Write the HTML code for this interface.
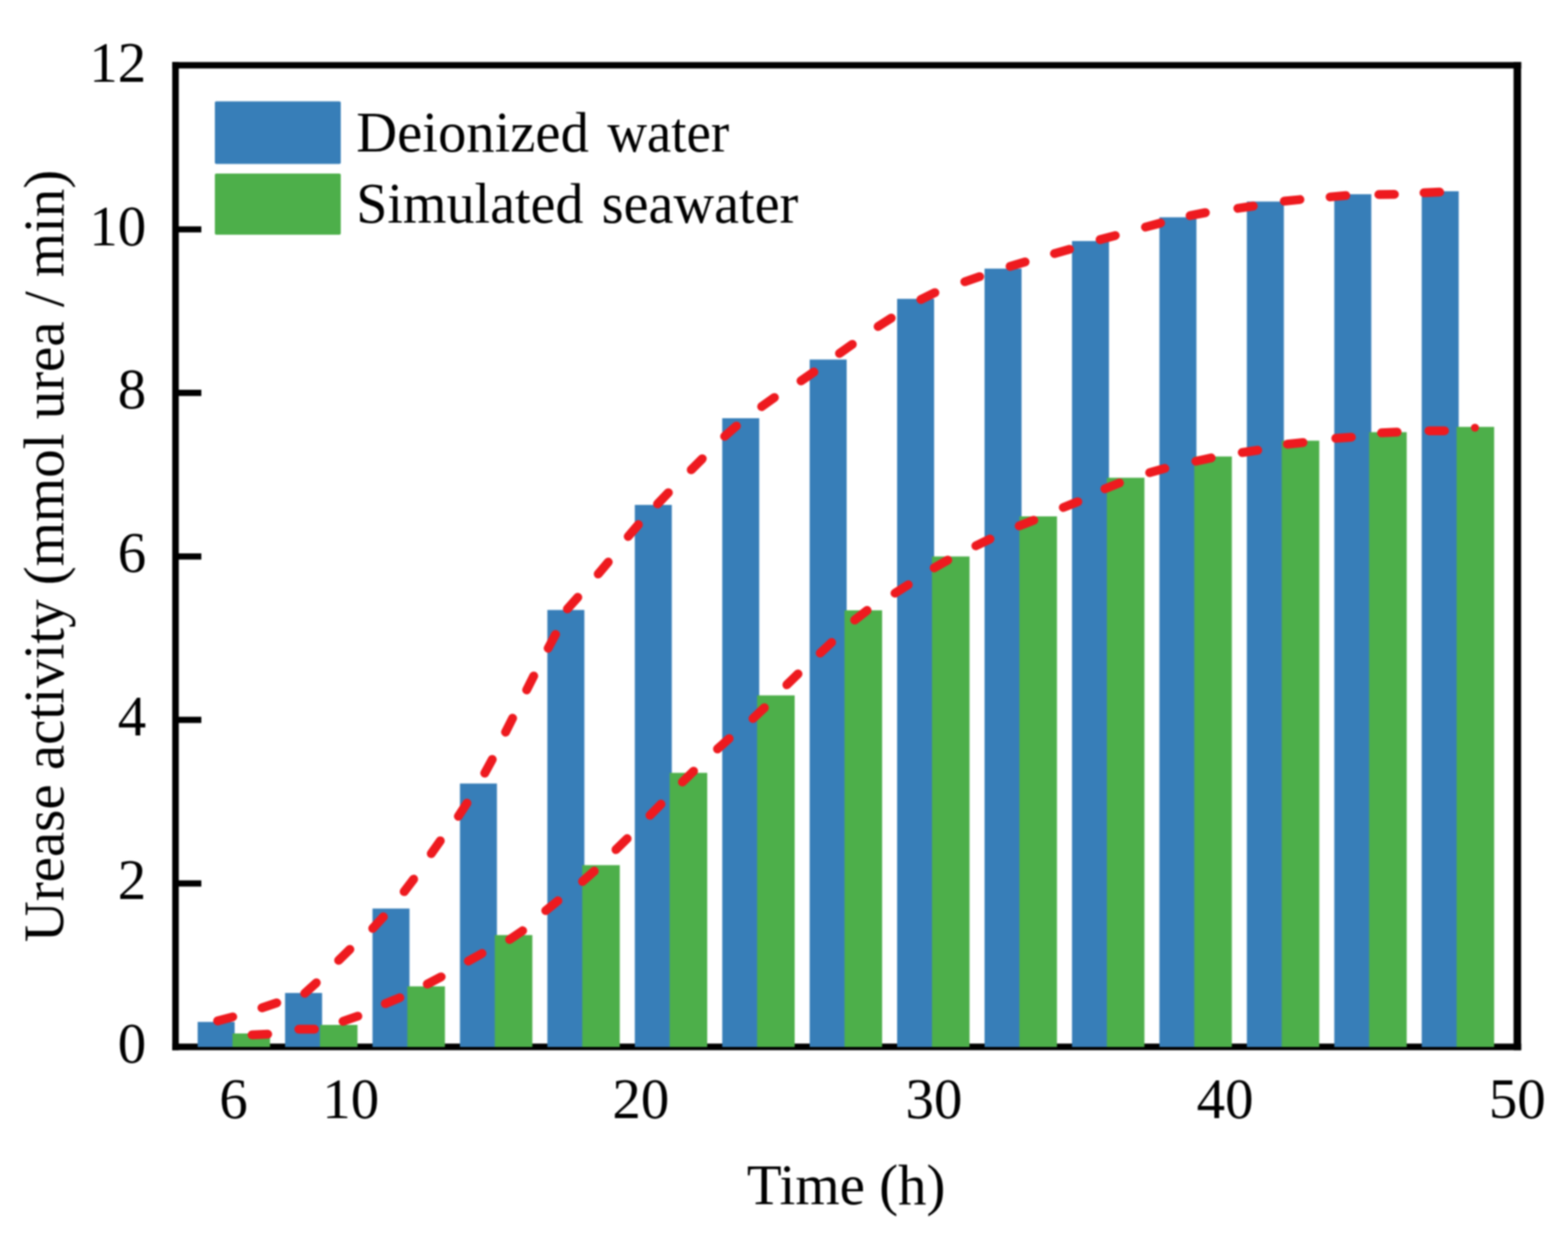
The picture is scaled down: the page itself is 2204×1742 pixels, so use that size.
<!DOCTYPE html>
<html><head><meta charset="utf-8"><title>Urease activity chart</title>
<style>html,body{margin:0;padding:0;background:#fff;}body{width:2204px;height:1742px;overflow:hidden;}svg{display:block;filter:blur(1.1px);}</style>
</head><body>
<svg width="2204" height="1742" viewBox="0 0 2204 1742"><rect x="0" y="0" width="2204" height="1742" fill="#ffffff"/><g><line x1="242" y1="91.7" x2="2138.3" y2="91.7" stroke="#000" stroke-width="9"/><line x1="242" y1="1471.8" x2="2138.3" y2="1471.8" stroke="#000" stroke-width="9.2"/><line x1="246.7" y1="87.2" x2="246.7" y2="1476.4" stroke="#000" stroke-width="9.2"/><line x1="2132.8" y1="87.2" x2="2132.8" y2="1476.4" stroke="#000" stroke-width="10.6"/><line x1="246" y1="1242.1" x2="283" y2="1242.1" stroke="#000" stroke-width="8.7"/><line x1="246" y1="1012.2" x2="283" y2="1012.2" stroke="#000" stroke-width="8.7"/><line x1="246" y1="782.3" x2="283" y2="782.3" stroke="#000" stroke-width="8.7"/><line x1="246" y1="552.4" x2="283" y2="552.4" stroke="#000" stroke-width="8.7"/><line x1="246" y1="322.5" x2="283" y2="322.5" stroke="#000" stroke-width="8.7"/></g><g><rect x="277.8" y="1436.8" width="52.0" height="35.2" fill="#377EB8"/><rect x="326.8" y="1453.0" width="52.8" height="19.0" fill="#4DAF4A"/><rect x="400.7" y="1396.1" width="52.0" height="75.9" fill="#377EB8"/><rect x="449.7" y="1441.0" width="52.8" height="31.0" fill="#4DAF4A"/><rect x="523.6" y="1277.4" width="52.0" height="194.6" fill="#377EB8"/><rect x="572.6" y="1386.8" width="52.8" height="85.2" fill="#4DAF4A"/><rect x="646.5" y="1101.6" width="52.0" height="370.4" fill="#377EB8"/><rect x="695.5" y="1314.7" width="52.8" height="157.3" fill="#4DAF4A"/><rect x="769.4" y="857.6" width="52.0" height="614.4" fill="#377EB8"/><rect x="818.4" y="1216.4" width="52.8" height="255.6" fill="#4DAF4A"/><rect x="892.3" y="709.9" width="52.0" height="762.1" fill="#377EB8"/><rect x="941.3" y="1086.6" width="52.8" height="385.4" fill="#4DAF4A"/><rect x="1015.2" y="588.0" width="52.0" height="884.0" fill="#377EB8"/><rect x="1064.2" y="977.7" width="52.8" height="494.3" fill="#4DAF4A"/><rect x="1138.1" y="505.5" width="52.0" height="966.5" fill="#377EB8"/><rect x="1187.1" y="858.1" width="52.8" height="613.9" fill="#4DAF4A"/><rect x="1261.0" y="420.2" width="52.0" height="1051.8" fill="#377EB8"/><rect x="1310.0" y="782.4" width="52.8" height="689.6" fill="#4DAF4A"/><rect x="1383.9" y="377.7" width="52.0" height="1094.3" fill="#377EB8"/><rect x="1432.9" y="726.0" width="52.8" height="746.0" fill="#4DAF4A"/><rect x="1506.8" y="338.9" width="52.0" height="1133.1" fill="#377EB8"/><rect x="1555.8" y="671.7" width="52.8" height="800.3" fill="#4DAF4A"/><rect x="1629.7" y="305.5" width="52.0" height="1166.5" fill="#377EB8"/><rect x="1678.7" y="641.8" width="52.8" height="830.2" fill="#4DAF4A"/><rect x="1752.6" y="283.4" width="52.0" height="1188.6" fill="#377EB8"/><rect x="1801.6" y="619.6" width="52.8" height="852.4" fill="#4DAF4A"/><rect x="1875.5" y="273.1" width="52.0" height="1198.9" fill="#377EB8"/><rect x="1924.5" y="607.6" width="52.8" height="864.4" fill="#4DAF4A"/><rect x="1998.4" y="268.9" width="52.0" height="1203.1" fill="#377EB8"/><rect x="2047.4" y="600.2" width="52.8" height="871.8" fill="#4DAF4A"/></g><path d="M305.9 1435.4L327.1 1429.7M368.2 1417.0L389.0 1410.0M428.3 1396.6L444.6 1381.8M476.0 1350.2L491.8 1334.8M523.9 1305.3L538.9 1289.1M568.1 1253.6L581.4 1236.1M606.2 1200.2L618.9 1182.2M644.3 1147.7L656.4 1129.2M681.4 1087.1L691.9 1067.8M710.6 1029.4L720.5 1009.8M740.3 970.0L750.2 950.4M770.5 911.4L780.9 891.9M797.5 856.1L812.2 839.8M840.9 807.1L855.0 790.3M883.0 754.3L897.3 737.6M924.2 708.6L939.5 692.7M971.6 660.5L987.1 645.0M1018.6 613.4L1035.1 598.9M1070.6 571.7L1088.5 558.9M1125.9 535.5L1144.0 523.0M1180.0 496.9L1198.0 484.2M1234.3 459.1L1252.7 447.2M1294.4 421.1L1314.1 411.4M1356.2 396.1L1377.0 388.9M1419.8 374.5L1440.9 368.3M1482.2 356.5L1503.3 350.4M1546.3 336.9L1567.6 331.2M1610.1 319.3L1631.3 313.6M1672.8 303.2L1694.3 299.0M1739.9 292.9L1761.6 289.7M1805.3 282.8L1827.2 280.6M1869.6 276.9L1891.6 274.9M1938.1 273.6L1960.0 273.2M2001.6 271.0L2023.6 270.1M354.3 1454.9L376.3 1454.0M420.0 1447.1L442.0 1447.1M482.2 1435.9L503.0 1428.7M541.6 1411.1L562.0 1402.8M600.6 1383.6L620.1 1373.4M658.3 1351.3L677.5 1340.6M716.4 1320.9L734.6 1308.6M767.1 1280.3L784.2 1266.5M818.8 1239.3L835.3 1224.8M865.8 1194.5L881.5 1179.1M913.6 1146.3L929.1 1130.6M959.2 1099.5L974.9 1084.2M1008.5 1053.0L1024.9 1038.4M1058.4 1010.2L1074.4 995.1M1106.0 962.8L1121.7 947.5M1152.9 918.3L1168.9 903.3M1201.4 871.8L1218.8 858.3M1258.0 834.0L1276.6 822.2M1313.1 798.4L1332.2 787.5M1371.7 767.4L1391.5 757.8M1432.6 739.4L1453.1 731.4M1494.6 713.5L1515.0 705.4M1553.1 687.2L1573.5 679.0M1616.0 664.5L1637.3 658.6M1680.9 648.5L1702.4 643.8M1746.1 636.2L1767.9 633.0M1809.6 624.5L1831.5 622.2M1877.6 616.2L1899.5 614.7M1941.9 608.6L1963.8 607.5M2008.5 605.7L2030.5 605.7" fill="none" stroke="#EE1A1F" stroke-width="12.5" stroke-linecap="round"/><circle cx="2073.2" cy="601.3" r="5.6" fill="#EE1A1F"/><rect x="302" y="142.5" width="177" height="88" rx="2" fill="#377EB8"/><rect x="302" y="244" width="177" height="86" rx="2" fill="#4DAF4A"/><text x="500.8" y="212.8" textLength="326.9" lengthAdjust="spacingAndGlyphs" font-family="&apos;Liberation Serif&apos;, &apos;Times New Roman&apos;, serif" font-size="80" fill="#000">Deionized</text><text x="853.7" y="212.8" textLength="171.2" lengthAdjust="spacingAndGlyphs" font-family="&apos;Liberation Serif&apos;, &apos;Times New Roman&apos;, serif" font-size="80" fill="#000">water</text><text x="500.7" y="312.6" textLength="319.4" lengthAdjust="spacingAndGlyphs" font-family="&apos;Liberation Serif&apos;, &apos;Times New Roman&apos;, serif" font-size="80" fill="#000">Simulated</text><text x="845.8" y="312.6" textLength="276.2" lengthAdjust="spacingAndGlyphs" font-family="&apos;Liberation Serif&apos;, &apos;Times New Roman&apos;, serif" font-size="80" fill="#000">seawater</text><text x="205.5" y="1494.0" text-anchor="end" font-family="&apos;Liberation Serif&apos;, &apos;Times New Roman&apos;, serif" font-size="80" fill="#000">0</text><text x="205.5" y="1264.1" text-anchor="end" font-family="&apos;Liberation Serif&apos;, &apos;Times New Roman&apos;, serif" font-size="80" fill="#000">2</text><text x="205.5" y="1034.2" text-anchor="end" font-family="&apos;Liberation Serif&apos;, &apos;Times New Roman&apos;, serif" font-size="80" fill="#000">4</text><text x="205.5" y="804.3" text-anchor="end" font-family="&apos;Liberation Serif&apos;, &apos;Times New Roman&apos;, serif" font-size="80" fill="#000">6</text><text x="205.5" y="574.4" text-anchor="end" font-family="&apos;Liberation Serif&apos;, &apos;Times New Roman&apos;, serif" font-size="80" fill="#000">8</text><text x="205.5" y="344.5" text-anchor="end" font-family="&apos;Liberation Serif&apos;, &apos;Times New Roman&apos;, serif" font-size="80" fill="#000">10</text><text x="205.5" y="114.6" text-anchor="end" font-family="&apos;Liberation Serif&apos;, &apos;Times New Roman&apos;, serif" font-size="80" fill="#000">12</text><text x="328.2" y="1571.5" text-anchor="middle" font-family="&apos;Liberation Serif&apos;, &apos;Times New Roman&apos;, serif" font-size="80" fill="#000">6</text><text x="493.0" y="1571.5" text-anchor="middle" font-family="&apos;Liberation Serif&apos;, &apos;Times New Roman&apos;, serif" font-size="80" fill="#000">10</text><text x="900.8" y="1571.5" text-anchor="middle" font-family="&apos;Liberation Serif&apos;, &apos;Times New Roman&apos;, serif" font-size="80" fill="#000">20</text><text x="1312.8" y="1571.5" text-anchor="middle" font-family="&apos;Liberation Serif&apos;, &apos;Times New Roman&apos;, serif" font-size="80" fill="#000">30</text><text x="1722" y="1571.5" text-anchor="middle" font-family="&apos;Liberation Serif&apos;, &apos;Times New Roman&apos;, serif" font-size="80" fill="#000">40</text><text x="2132.8" y="1571.5" text-anchor="middle" font-family="&apos;Liberation Serif&apos;, &apos;Times New Roman&apos;, serif" font-size="80" fill="#000">50</text><text x="1189.3" y="1692.6" text-anchor="middle" font-family="&apos;Liberation Serif&apos;, &apos;Times New Roman&apos;, serif" font-size="80" fill="#000">Time (h)</text><text transform="translate(88.8 781.7) rotate(-90)" x="0" y="0" text-anchor="middle" font-family="&apos;Liberation Serif&apos;, &apos;Times New Roman&apos;, serif" font-size="80" fill="#000">Urease activity (mmol urea / min)</text></svg>
</body></html>
